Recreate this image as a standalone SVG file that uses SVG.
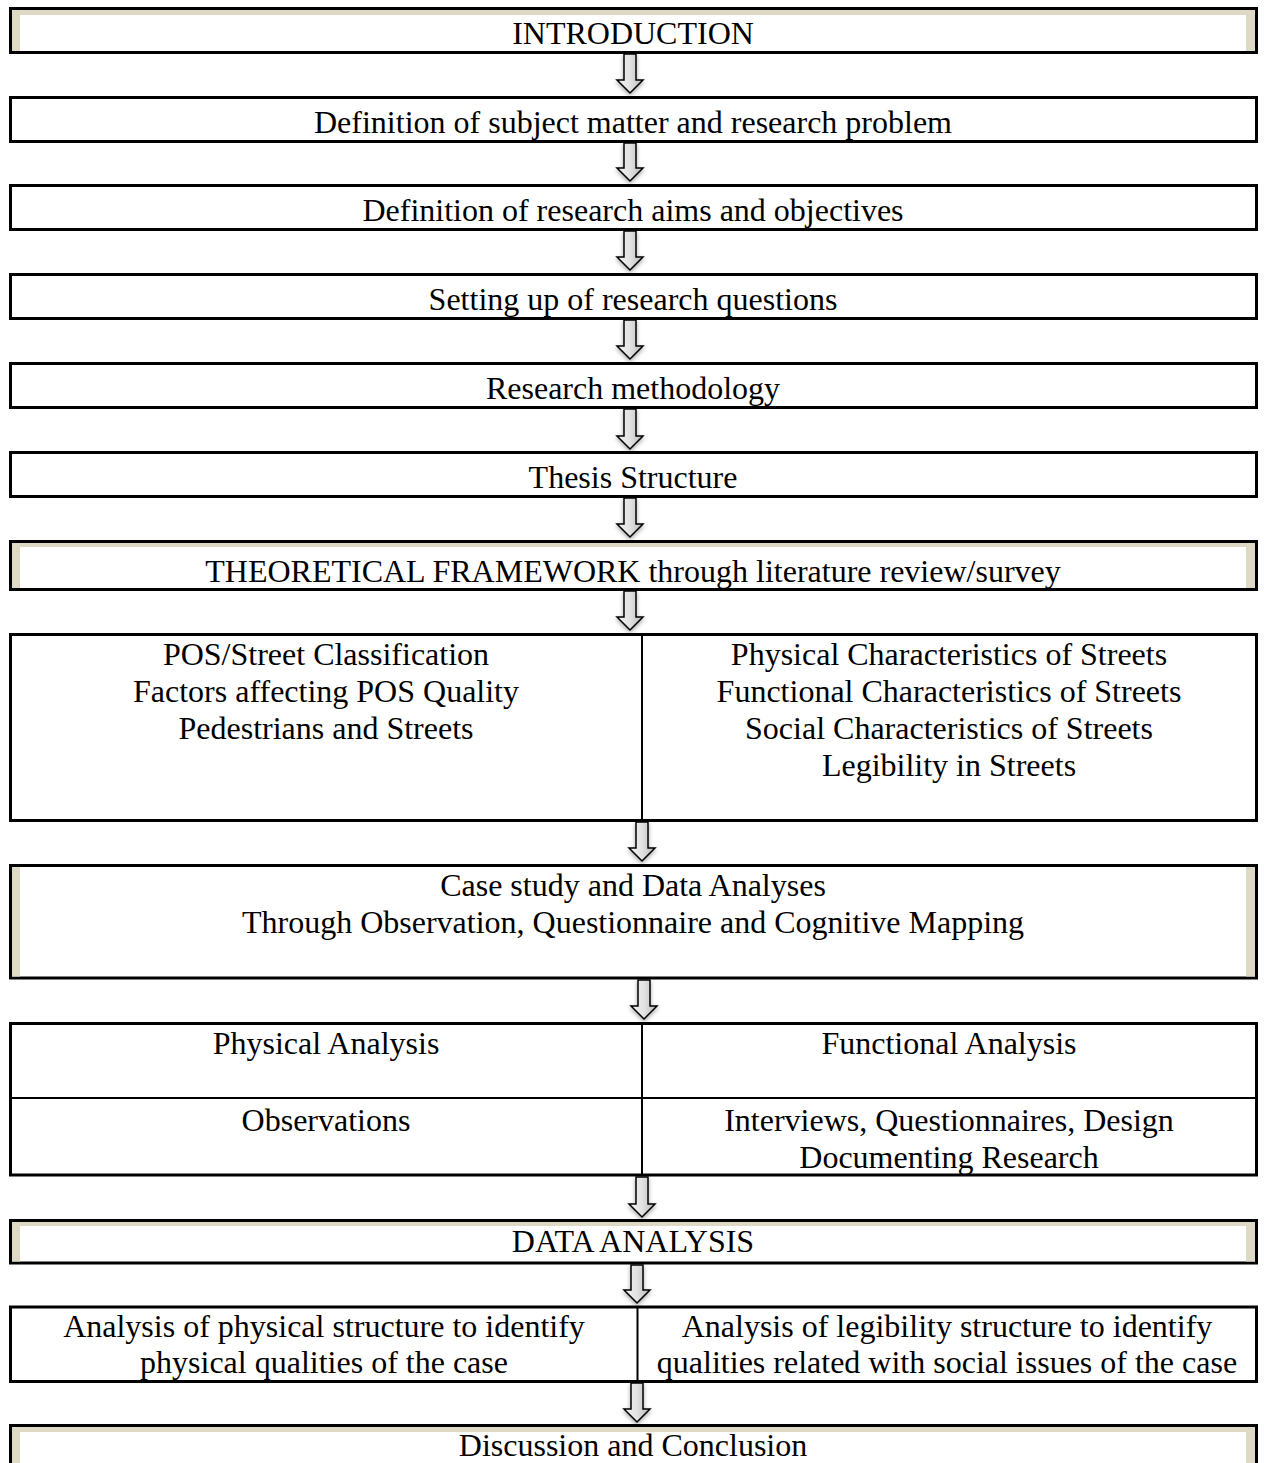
<svg xmlns="http://www.w3.org/2000/svg" width="1264" height="1463" viewBox="0 0 1264 1463">
<style>
  .box { fill: #ffffff; stroke: #000000; stroke-width: 3; }
  .tan { fill: #ddd9c4; }
  .div { stroke: #000000; stroke-width: 2; fill: none; }
  .t { font-family: "Liberation Serif", "Times New Roman", serif; font-size: 32px; fill: #000000; text-anchor: middle; }
  .arrow { fill: url(#ag); stroke: #000000; stroke-width: 1.5; stroke-linejoin: miter; filter: url(#sh); }
</style>
<defs>
  <linearGradient id="ag" x1="0" y1="0" x2="1" y2="0">
    <stop offset="0" stop-color="#f2f2f2"/>
    <stop offset="0.5" stop-color="#e2e2e2"/>
    <stop offset="1" stop-color="#b8b8b8"/>
  </linearGradient>
  <filter id="sh" x="-50%" y="-20%" width="200%" height="140%">
    <feDropShadow dx="0" dy="2" stdDeviation="2" flood-color="#000000" flood-opacity="0.35"/>
  </filter>
</defs>
<rect x="0" y="0" width="1264" height="1463" fill="#ffffff"/>

<g id="n1">
  <rect class="box" x="10.5" y="8.5" width="1246" height="44"/>
  <rect class="tan" x="12" y="10" width="1243" height="5"/>
  <rect class="tan" x="12" y="10" width="8" height="41"/>
  <rect class="tan" x="1246" y="10" width="9" height="41"/>
  <text class="t" x="633" y="44">INTRODUCTION</text>
</g>
<g id="n2">
  <rect class="box" x="10.5" y="97.5" width="1246" height="44"/>
  <text class="t" x="633" y="133">Definition of subject matter and research problem</text>
</g>
<g id="n3">
  <rect class="box" x="10.5" y="185.5" width="1246" height="44"/>
  <text class="t" x="633" y="221">Definition of research aims and objectives</text>
</g>
<g id="n4">
  <rect class="box" x="10.5" y="274.5" width="1246" height="44"/>
  <text class="t" x="633" y="310">Setting up of research questions</text>
</g>
<g id="n5">
  <rect class="box" x="10.5" y="363.5" width="1246" height="44"/>
  <text class="t" x="633" y="399">Research methodology</text>
</g>
<g id="n6">
  <rect class="box" x="10.5" y="452.5" width="1246" height="44"/>
  <text class="t" x="633" y="488">Thesis Structure</text>
</g>
<g id="n7">
  <rect class="box" x="10.5" y="541.5" width="1246" height="48"/>
  <rect class="tan" x="12" y="543" width="1243" height="4"/>
  <rect class="tan" x="12" y="543" width="8" height="45"/>
  <rect class="tan" x="1246" y="543" width="9" height="45"/>
  <text class="t" x="633" y="582">THEORETICAL FRAMEWORK through literature review/survey</text>
</g>
<g id="n8">
  <rect class="box" x="10.5" y="634.5" width="1246" height="186"/>
  <line class="div" x1="642" y1="634.5" x2="642" y2="820.5"/>
  <text class="t" x="326" y="665">POS/Street Classification</text>
  <text class="t" x="326" y="702">Factors affecting POS Quality</text>
  <text class="t" x="326" y="739">Pedestrians and Streets</text>
  <text class="t" x="949" y="665">Physical Characteristics of Streets</text>
  <text class="t" x="949" y="702">Functional Characteristics of Streets</text>
  <text class="t" x="949" y="739">Social Characteristics of Streets</text>
  <text class="t" x="949" y="776">Legibility in Streets</text>
</g>
<g id="n9">
  <rect class="box" x="10.5" y="865.5" width="1246" height="112.5"/>
  <rect class="tan" x="12" y="867" width="8" height="109.5"/>
  <rect class="tan" x="1246" y="867" width="9" height="109.5"/>
  <text class="t" x="633" y="896">Case study and Data Analyses</text>
  <text class="t" x="633" y="933">Through Observation, Questionnaire and Cognitive Mapping</text>
</g>
<g id="n10">
  <rect class="box" x="10.5" y="1023.5" width="1246" height="151.5"/>
  <line class="div" x1="642" y1="1023.5" x2="642" y2="1175"/>
  <line class="div" x1="10.5" y1="1098" x2="1256.5" y2="1098"/>
  <text class="t" x="326" y="1054">Physical Analysis</text>
  <text class="t" x="949" y="1054">Functional Analysis</text>
  <text class="t" x="326" y="1131">Observations</text>
  <text class="t" x="949" y="1131">Interviews, Questionnaires, Design</text>
  <text class="t" x="949" y="1168">Documenting Research</text>
</g>
<g id="n11">
  <rect class="box" x="10.5" y="1220.5" width="1246" height="42.5"/>
  <rect class="tan" x="12" y="1222" width="1243" height="4"/>
  <rect class="tan" x="12" y="1222" width="8" height="39.5"/>
  <rect class="tan" x="1246" y="1222" width="9" height="39.5"/>
  <text class="t" x="633" y="1252">DATA ANALYSIS</text>
</g>
<g id="n12">
  <rect class="box" x="10.5" y="1307" width="1246" height="74.5"/>
  <line class="div" x1="637.5" y1="1307" x2="637.5" y2="1381.5"/>
  <text class="t" x="324" y="1337">Analysis of physical structure to identify</text>
  <text class="t" x="324" y="1373">physical qualities of the case</text>
  <text class="t" x="947" y="1337">Analysis of legibility structure to identify</text>
  <text class="t" x="947" y="1373">qualities related with social issues of the case</text>
</g>
<g id="n13">
  <rect class="box" x="10.5" y="1425.5" width="1246" height="60"/>
  <rect class="tan" x="12" y="1427" width="1243" height="5"/>
  <rect class="tan" x="12" y="1427" width="8" height="57"/>
  <rect class="tan" x="1246" y="1427" width="9" height="57"/>
  <text class="t" x="633" y="1456">Discussion and Conclusion</text>
</g>

<g id="connectors">
  <path class="arrow" d="M624,54 L636,54 L636,80 L643,80 L630,93 L617,80 L624,80 Z"/>
  <path class="arrow" d="M624,143 L636,143 L636,168 L643,168 L630,181 L617,168 L624,168 Z"/>
  <path class="arrow" d="M624,231 L636,231 L636,257 L643,257 L630,270 L617,257 L624,257 Z"/>
  <path class="arrow" d="M624,320 L636,320 L636,346 L643,346 L630,359 L617,346 L624,346 Z"/>
  <path class="arrow" d="M624,409 L636,409 L636,436 L643,436 L630,449 L617,436 L624,436 Z"/>
  <path class="arrow" d="M624,498 L636,498 L636,524 L643,524 L630,537 L617,524 L624,524 Z"/>
  <path class="arrow" d="M624,591 L636,591 L636,617 L643,617 L630,630 L617,617 L624,617 Z"/>
  <path class="arrow" d="M636,822 L648,822 L648,848 L655,848 L642,861 L629,848 L636,848 Z"/>
  <path class="arrow" d="M638,980 L650,980 L650,1006 L657,1006 L644,1019 L631,1006 L638,1006 Z"/>
  <path class="arrow" d="M636,1177 L648,1177 L648,1204 L655,1204 L642,1217 L629,1204 L636,1204 Z"/>
  <path class="arrow" d="M631,1265 L643,1265 L643,1290 L650,1290 L637,1303 L624,1290 L631,1290 Z"/>
  <path class="arrow" d="M631,1383 L643,1383 L643,1409 L650,1409 L637,1422 L624,1409 L631,1409 Z"/>
</g>
</svg>
